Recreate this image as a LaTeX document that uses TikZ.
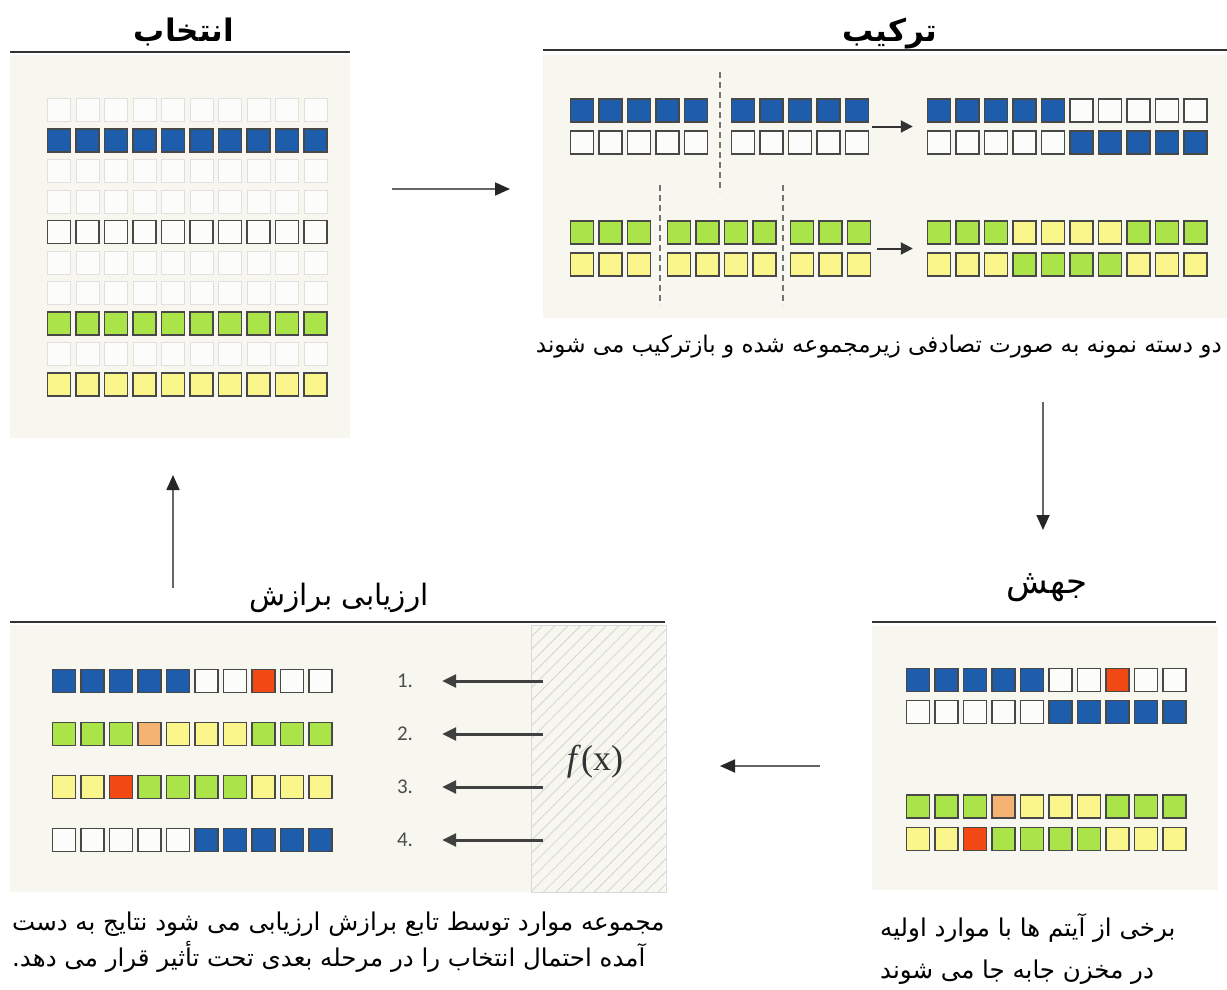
\documentclass[tikz,border=0pt]{standalone}
\usepackage{fontspec}
\usepackage{xcolor}
\usetikzlibrary{arrows.meta,patterns.meta,positioning,calc}
\TeXXeTstate=1
\newfontfamily\farsi[Script=Arabic]{DejaVu Sans}
\newfontfamily\numfont{Carlito}
\newfontfamily\fxfont{Liberation Serif}

\definecolor{gB}{RGB}{30,92,172}
\definecolor{gW}{RGB}{252,252,250}
\definecolor{gG}{RGB}{170,228,72}
\definecolor{gY}{RGB}{250,246,140}
\definecolor{gO}{RGB}{244,178,115}
\definecolor{gR}{RGB}{242,72,20}
\definecolor{panelbg}{RGB}{247,247,240}
\definecolor{edge}{RGB}{72,72,72}

\tikzset{
	gene/.style={draw=edge,line width=1.4pt,minimum size=23pt,inner sep=0pt},
	faint/.style={draw=black!12,line width=1pt},
	panel/.style={fill=panelbg,draw=none,inner sep=0pt,anchor=north west},
	rule/.style={draw=black!80,line width=1.6pt},
	title/.style={font=\farsi\bfseries\fontsize{31}{36}\selectfont,inner sep=0pt},
	head/.style={font=\farsi\fontsize{29.5}{34}\selectfont,inner sep=0pt},
	note/.style={font=\farsi\fontsize{24.5}{28}\selectfont,inner sep=0pt},
	rank/.style={font=\numfont\fontsize{21}{24}\selectfont,text=black!70,inner sep=0pt},
	flow/.style={draw=black!60,line width=1.8pt,-{Triangle[length=15pt,width=13pt,color=black!85]}},
	swap/.style={draw=black!80,line width=2pt,-{Triangle[length=12pt,width=12pt]}},
	score/.style={draw=black!75,line width=3pt,-{Triangle[length=14pt,width=13pt]}},
	cut/.style={draw=black!55,line width=1.2pt,dash pattern=on 6pt off 4pt},
}

% one chromosome: [style] name, x of first gene, y, gene colours
\newcommand{\chrom}[5][]{%
	\foreach \g [count=\i] in {#5}
		\node[gene,fill=g\g,#1] (#2-\i) at ({#3+(\i-1)*28.5},{#4}) {};}

\begin{document}
\begin{tikzpicture}[x=1pt,y=-1pt]
	\fill[white] (0,0) rectangle (1227,990);
	\useasboundingbox (0,0) rectangle (1227,990);

	% selection
	\node[panel,minimum width=340,minimum height=383] (selbox) at (10,55) {};
	\draw[rule] ([yshift=3]selbox.north west) -- ([yshift=3]selbox.north east);
	\node[title] (seltitle) at (184,32) {\beginR انتخاب\endR};
	\foreach \r in {0,2,3,5,6,8}{
		\chrom[faint]{s\r}{59}{110+30.5*\r}{W,W,W,W,W,W,W,W,W,W}
	}
	\chrom{s1}{59}{140.5}{B,B,B,B,B,B,B,B,B,B}
	\chrom{s4}{59}{232}{W,W,W,W,W,W,W,W,W,W}
	\chrom{s7}{59}{323.5}{G,G,G,G,G,G,G,G,G,G}
	\chrom{s9}{59}{384.5}{Y,Y,Y,Y,Y,Y,Y,Y,Y,Y}

	% crossover
	\node[panel,minimum width=684,minimum height=263] (crossbox) at (543,55) {};
	\draw[rule] ([yshift=5]crossbox.north west) -- ([yshift=5]crossbox.north east);
	\node[title] (crosstitle) at (890,34) {\beginR ترکیب\endR};
	\chrom{xa1}{582}{110.5}{B,B,B,B,B}
	\chrom{xa2}{582}{142.5}{W,W,W,W,W}
	\chrom{xb1}{743}{110.5}{B,B,B,B,B}
	\chrom{xb2}{743}{142.5}{W,W,W,W,W}
	\chrom{xc1}{939}{110.5}{B,B,B,B,B,W,W,W,W,W}
	\chrom{xc2}{939}{142.5}{W,W,W,W,W,B,B,B,B,B}
	\chrom{xd1}{582}{232.5}{G,G,G}
	\chrom{xd2}{582}{264.5}{Y,Y,Y}
	\chrom{xe1}{679}{232.5}{G,G,G,G}
	\chrom{xe2}{679}{264.5}{Y,Y,Y,Y}
	\chrom{xf1}{802}{232.5}{G,G,G}
	\chrom{xf2}{802}{264.5}{Y,Y,Y}
	\chrom{xg1}{939}{232.5}{G,G,G,Y,Y,Y,Y,G,G,G}
	\chrom{xg2}{939}{264.5}{Y,Y,Y,G,G,G,G,Y,Y,Y}
	\draw[cut] (720,72) -- (720,192);
	\draw[cut] (660,185) -- (660,305);
	\draw[cut] (783,185) -- (783,305);
	\draw[swap] ($(xb1-5.south east)!.5!(xb2-5.north east)+(3,0)$) -- ($(xc1-1.south west)!.5!(xc2-1.north west)+(-14,0)$);
	\draw[swap] ($(xf1-3.south east)!.5!(xf2-3.north east)+(6,0)$) -- ($(xg1-1.south west)!.5!(xg2-1.north west)+(-14,0)$);
	\node[note,font=\farsi\fontsize{23}{27}\selectfont,anchor=east] (crossnote) at (1222,347) {\beginR دو دسته نمونه به صورت تصادفی زیرمجموعه شده و بازترکیب می شوند\endR};

	% mutation
	\node[panel,minimum width=346,minimum height=264] (mutbox) at (872,626) {};
	\draw[rule] ([yshift=4]mutbox.north west) -- ([yshift=4,xshift=-2]mutbox.north east);
	\node[head,font=\farsi\fontsize{34}{38}\selectfont] (muttitle) at (1047,588) {\beginR جهش\endR};
	\chrom{m1}{918}{680}{B,B,B,B,B,W,W,R,W,W}
	\chrom{m2}{918}{712}{W,W,W,W,W,B,B,B,B,B}
	\chrom{m3}{918}{806.5}{G,G,G,O,Y,Y,Y,G,G,G}
	\chrom{m4}{918}{839}{Y,Y,R,G,G,G,G,Y,Y,Y}
	\node[note,anchor=west] (mutnote1) at (880,928) {\beginR برخی از آیتم ها با موارد اولیه\endR};
	\node[note,anchor=west] (mutnote2) at (880,972) {\beginR در مخزن جابه جا می شوند\endR};

	% fitness
	\node[panel,minimum width=655,minimum height=267] (fitbox) at (10,625) {};
	\node[panel,minimum width=135,minimum height=267,draw=black!15,line width=1pt,
		pattern={Lines[angle=45,distance=9pt,line width=1pt]},pattern color=black!15] (fxbox) at (531,625) {};
	\draw[rule] ([yshift=3]fitbox.north west) -- ([yshift=3]fitbox.north east);
	\node[head] (fittitle) at (339,598) {\beginR ارزیابی برازش\endR};
	\node[font=\fxfont\fontsize{36}{40}\selectfont,text=black!80] (fx) at (595,762) {\textit{f}(x)};
	\chrom{f1}{64}{681}{B,B,B,B,B,W,W,R,W,W}
	\chrom{f2}{64}{734}{G,G,G,O,Y,Y,Y,G,G,G}
	\chrom{f3}{64}{787}{Y,Y,R,G,G,G,G,Y,Y,Y}
	\chrom{f4}{64}{840}{W,W,W,W,W,B,B,B,B,B}
	\foreach \k/\y in {1/681,2/734,3/787,4/840}{
		\node[rank] (n\k) at (405,\y) {\k.};
		\draw[score] ($(fxbox.west |- n\k)+(12,0)$) -- ($(n\k.east)+(29,0)$);
	}
	\node[note,anchor=west] (fitnote1) at (12,924) {\beginR مجموعه موارد توسط تابع برازش ارزیابی می شود نتایج به دست\endR};
	\node[note,anchor=west] (fitnote2) at (12,957) {\beginR آمده احتمال انتخاب را در مرحله بعدی تحت تأثیر قرار می دهد.\endR};

	% the cycle
	\coordinate (selout) at (392,189);
	\coordinate (crossin) at (510,189);
	\coordinate (crossout) at (1043,402);
	\coordinate (mutin) at (1043,530);
	\coordinate (mutout) at (820,766);
	\coordinate (fitin) at (720,766);
	\coordinate (fitout) at (173,588);
	\coordinate (selin) at (173,475);
	\draw[flow] (selout) -- (crossin);
	\draw[flow] (crossout) -- (mutin);
	\draw[flow] (mutout) -- (fitin);
	\draw[flow] (fitout) -- (selin);
\end{tikzpicture}
\end{document}
